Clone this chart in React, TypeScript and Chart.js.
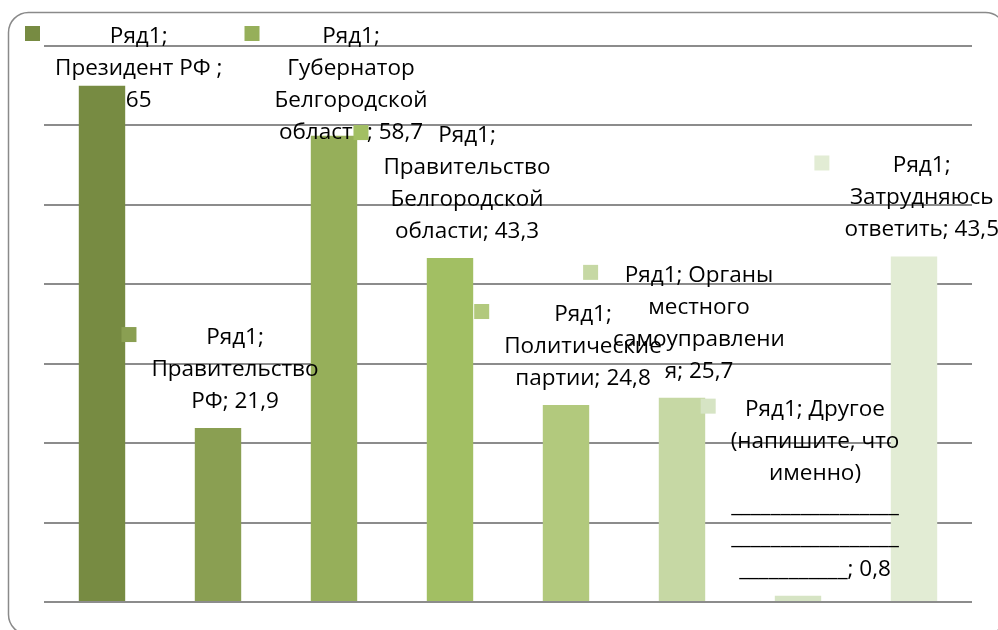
import React, { useEffect, useRef } from 'react';
import { Chart, registerables } from 'chart.js';

Chart.register(...registerables);

const seriesName = 'Ряд1';
const categories = [
  'Президент РФ ',
  'Правительство РФ',
  'Губернатор Белгородской области',
  'Правительство Белгородской области',
  'Политические партии',
  'Органы местного самоуправления',
  'Другое (напишите, что именно) ________________________________________',
  'Затрудняюсь ответить',
];
const values = [65, 21.9, 58.7, 43.3, 24.8, 25.7, 0.8, 43.5];
const yMin = 0;
const yMax = 70;
const yStep = 10;
const barColors = [
  '#778b42',
  '#8a9f52',
  '#96af5a',
  '#a2bf63',
  '#b2c97d',
  '#c6d8a4',
  '#d6e4c4',
  '#e2ecd4',
];

const fmt = (v: number) => String(v).replace('.', ',');

// wrapped data-label text, as shown in the chart
const labelLines: string[][] = [
  [`${seriesName};`, 'Президент РФ ;', fmt(values[0])],
  [`${seriesName};`, 'Правительство', `РФ; ${fmt(values[1])}`],
  [`${seriesName};`, 'Губернатор', 'Белгородской', `области; ${fmt(values[2])}`],
  [`${seriesName};`, 'Правительство', 'Белгородской', `области; ${fmt(values[3])}`],
  [`${seriesName};`, 'Политические', `партии; ${fmt(values[4])}`],
  [`${seriesName}; Органы`, 'местного', 'самоуправлени', `я; ${fmt(values[5])}`],
  [
    `${seriesName}; Другое`,
    '(напишите, что',
    'именно)',
    '_________________',
    '_________________',
    `___________; ${fmt(values[6])}`,
  ],
  [`${seriesName};`, 'Затрудняюсь', `ответить; ${fmt(values[7])}`],
];

const FONT = '22.5px "Open Sans", "Noto Sans", sans-serif';
const LINE = 32;

const framePlugin = {
  id: 'frame',
  beforeDraw(chart: any) {
    const ctx = chart.ctx;
    ctx.save();
    ctx.strokeStyle = '#8a8a8a';
    ctx.lineWidth = 1.5;
    ctx.beginPath();
    ctx.roundRect(8.5, 12.5, 997, 622, 20);
    ctx.stroke();
    ctx.restore();
  },
};

const labelPlugin = {
  id: 'keyedLabels',
  afterDatasetsDraw(chart: any) {
    const ctx = chart.ctx;
    const meta = chart.getDatasetMeta(0);
    ctx.save();
    ctx.font = FONT;
    ctx.textAlign = 'center';
    ctx.textBaseline = 'alphabetic';
    meta.data.forEach((bar: any, i: number) => {
      const lines = labelLines[i];
      const maxW = Math.max(...lines.map((l) => ctx.measureText(l).width));
      let cx = bar.x + 17;
      const lastBase = bar.y - 20;
      let firstBase = lastBase - (lines.length - 1) * LINE;
      if (firstBase < 43) firstBase = 43;
      let keyLeft = cx - maxW / 2 - 30;
      if (keyLeft < 25) {
        cx += 25 - keyLeft;
        keyLeft = 25;
      }
      if (cx + maxW / 2 > 999) {
        const d = cx + maxW / 2 - 999;
        cx -= d;
        keyLeft -= d;
      }
      ctx.fillStyle = barColors[i];
      ctx.fillRect(keyLeft, firstBase - 17, 15, 15);
      ctx.fillStyle = '#000';
      lines.forEach((l, j) => {
        ctx.fillText(l, cx, firstBase + j * LINE);
      });
    });
    ctx.restore();
  },
};

export default function App() {
  const ref = useRef<HTMLCanvasElement>(null);
  useEffect(() => {
    if (!ref.current) return;
    const chart = new Chart(ref.current, {
      type: 'bar',
      data: {
        labels: categories,
        datasets: [
          {
            label: seriesName,
            data: values,
            backgroundColor: barColors,
            borderWidth: 0,
            barPercentage: 0.4,
            categoryPercentage: 1,
          },
        ],
      },
      options: {
        animation: false,
        responsive: false,
        maintainAspectRatio: false,
        layout: { padding: { left: 44, right: 26, top: 46, bottom: 28 } },
        plugins: { legend: { display: false }, tooltip: { enabled: false } },
        scales: {
          x: { display: false },
          y: {
            min: yMin,
            max: yMax,
            ticks: { display: false, stepSize: yStep },
            border: { display: false },
            grid: { color: '#8c8c8c', lineWidth: 2, drawTicks: false },
          },
        },
      },
      plugins: [framePlugin, labelPlugin],
    });
    return () => chart.destroy();
  }, []);
  return (
    <div style={{ position: 'fixed', left: 0, top: 0, width: 998, height: 630, background: '#fff' }}>
      <canvas ref={ref} width={998} height={630} />
    </div>
  );
}
